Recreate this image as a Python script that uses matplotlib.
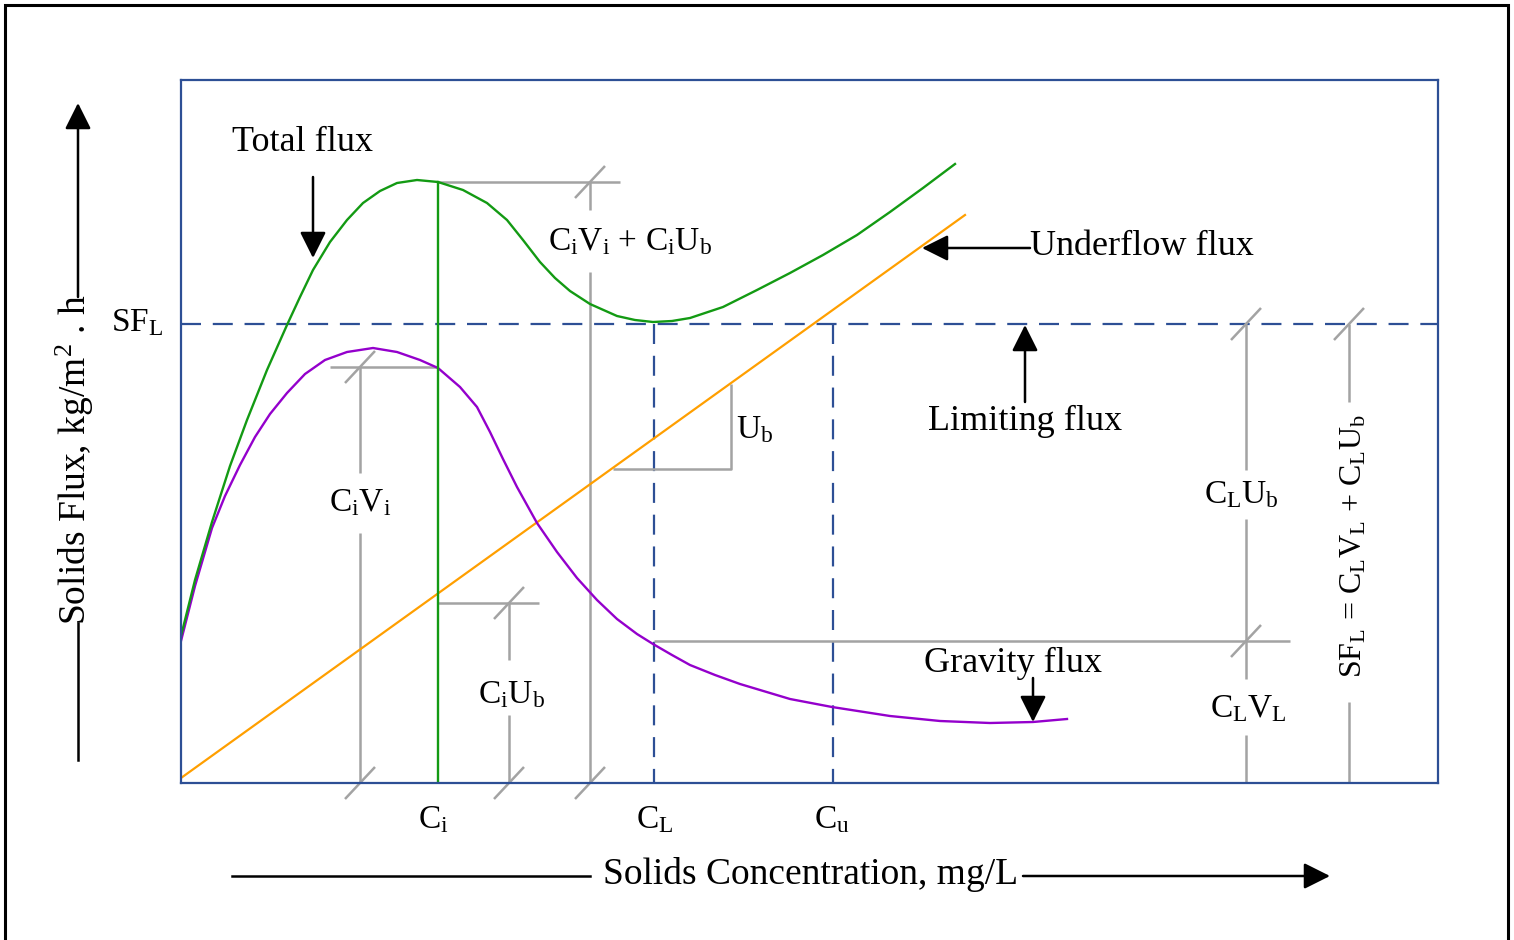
import numpy as np
import matplotlib.pyplot as plt
from matplotlib.patches import Rectangle

plt.rcParams['font.family'] = ['Liberation Serif', 'DejaVu Serif']
plt.rcParams['mathtext.fontset'] = 'custom'
plt.rcParams['mathtext.rm'] = 'Liberation Serif'
plt.rcParams['mathtext.it'] = 'Liberation Serif:italic'

# schematic units (concentration, flux)
total_c = [0, 14, 31, 49, 66, 86, 106, 119, 132, 149, 166, 182, 199, 216, 236, 257, 282,
           306, 326, 342, 359, 374, 389, 409, 436, 454, 472, 491, 509, 542, 576, 609, 642,
           676, 709, 742, 774]
total_f = [147, 203, 261, 317, 363, 413, 458, 486, 513, 541, 563, 580, 592, 600, 603, 601, 593,
           580, 563, 543, 521, 505, 492, 479, 467, 463, 461, 462, 465, 476, 493, 510, 528,
           548, 571, 595, 619]

gravity_c = [0, 14, 31, 44, 59, 74, 89, 106, 124, 144, 166, 192, 216, 239, 257, 279, 296, 309,
             322, 336, 356, 376, 396, 416, 436, 456, 472, 491, 509, 534, 559, 609, 651, 709,
             759, 809, 852, 886]
gravity_f = [142, 197, 255, 287, 318, 346, 369, 390, 409, 423, 431, 435, 431, 423, 415, 396, 376,
             351, 324, 296, 260, 231, 205, 183, 164, 149, 139, 128, 118, 108, 99, 84, 76, 67,
             62, 60, 61, 64]

under_c = [0, 784]
under_f = [5, 568]

C_i, C_L, C_u = 257, 473, 652
SF_L = 459
CiVi, CiUb, CiTot = 416, 180, 601
CLVL = 142
x_civi, x_ciub, x_citot = 179, 328, 409
x_clr, x_sfr = 1065, 1168

BLUE = '#2D4F95'
GRAY = '#A3A3A3'
GREEN = '#139A13'
PURPLE = '#9400CC'
ORANGE = '#FF9F00'

fig = plt.figure(figsize=(15.14, 9.40), dpi=100)
ax = fig.add_axes([181 / 1514, 157 / 940, 1257 / 1514, 703 / 940])
ax.set_xlim(0, 1257)
ax.set_ylim(0, 703)
ax.set_xticks([])
ax.set_yticks([])
for s in ax.spines.values():
    s.set_color(BLUE)
    s.set_linewidth(1.6)

# outer frame
fig.patches.append(Rectangle((5 / 1514, -0.02), 1503 / 1514, 1 - 5 / 940 + 0.02,
                             transform=fig.transFigure, fill=False, ec='black', lw=2.2))

gkw = dict(color=GRAY, lw=1.8, solid_capstyle='butt', clip_on=False)
dkw = dict(color=BLUE, lw=1.6, linestyle=(0, (9.0, 5.3)))

# limiting flux + concentrations
ax.plot([0, 1257], [SF_L, SF_L], **dkw)
ax.plot([C_L, C_L], [SF_L, 0], **dkw)
ax.plot([C_u, C_u], [SF_L, 0], **dkw)

# gray construction lines
ax.plot([149, C_i], [CiVi, CiVi], **gkw)
ax.plot([x_civi, x_civi], [CiVi, 310], **gkw)
ax.plot([x_civi, x_civi], [250, 0], **gkw)
ax.plot([C_i, 439], [CiTot, CiTot], **gkw)
ax.plot([x_citot, x_citot], [CiTot, 573], **gkw)
ax.plot([x_citot, x_citot], [511, 0], **gkw)
ax.plot([C_i, 358], [CiUb, CiUb], **gkw)
ax.plot([x_ciub, x_ciub], [CiUb, 123], **gkw)
ax.plot([x_ciub, x_ciub], [68, 0], **gkw)
ax.plot([432, 550, 550], [314, 314, 399], **gkw)
ax.plot([C_L, 1109], [CLVL, CLVL], **gkw)
ax.plot([x_clr, x_clr], [SF_L, 313], **gkw)
ax.plot([x_clr, x_clr], [264, 104], **gkw)
ax.plot([x_clr, x_clr], [48, 0], **gkw)
ax.plot([x_sfr, x_sfr], [SF_L, 381], **gkw)
ax.plot([x_sfr, x_sfr], [81, 0], **gkw)

# slash marks
for sx, sy in [(x_civi, CiVi), (x_civi, 0), (x_citot, CiTot), (x_citot, 0),
               (x_ciub, CiUb), (x_ciub, 0), (x_clr, SF_L), (x_clr, CLVL), (x_sfr, SF_L)]:
    ax.plot([sx - 15, sx + 15], [sy - 16, sy + 16], **gkw)

# flux curves
ax.plot(under_c, under_f, color=ORANGE, lw=1.6)
ax.plot(gravity_c, gravity_f, color=PURPLE, lw=1.7, solid_joinstyle='round')
ax.plot(total_c, total_f, color=GREEN, lw=1.7, solid_joinstyle='round')
ax.plot([C_i, C_i], [CiTot, 0], color=GREEN, lw=1.7)

akw = dict(arrowstyle='-|>,head_length=0.8,head_width=0.4', color='black', lw=1.8,
           shrinkA=0, shrinkB=0, mutation_scale=20)


def arrow(x0, y0, x1, y1):
    ax.annotate('', xy=(x1, y1), xytext=(x0, y0), arrowprops=akw, annotation_clip=False)


arrow(132, 606, 132, 525)
arrow(849, 535, 741, 535)
arrow(844, 381, 844, 458)
arrow(852, 105, 852, 61)

tkw = dict(ha='center', va='center', fontsize=26)
mkw = dict(ha='center', va='center', fontsize=24)
ax.text(122, 640, 'Total flux', **tkw)
ax.text(849, 536, 'Underflow flux', ha='left', va='center', fontsize=26)
ax.text(844, 362, 'Limiting flux', **tkw)
ax.text(832, 120, 'Gravity flux', **tkw)
ax.text(-44, 460, r'SF$_\mathrm{L}$', **mkw)
ax.text(C_i - 5, -37, r'C$_\mathrm{i}$', **mkw)
ax.text(C_L + 1, -37, r'C$_\mathrm{L}$', **mkw)
ax.text(C_u - 1, -37, r'C$_\mathrm{u}$', **mkw)
ax.text(555, 353, r'U$_\mathrm{b}$', ha='left', va='center', fontsize=24)
ax.text(x_civi, 280, r'C$_\mathrm{i}$V$_\mathrm{i}$', **mkw)
ax.text(x_ciub + 3, 88, r'C$_\mathrm{i}$U$_\mathrm{b}$', **mkw)
ax.text(449, 541, r'C$_\mathrm{i}$V$_\mathrm{i}$ + C$_\mathrm{i}$U$_\mathrm{b}$', **mkw)
ax.text(x_clr - 5, 288, r'C$_\mathrm{L}$U$_\mathrm{b}$', **mkw)
ax.text(x_clr + 2, 74, r'C$_\mathrm{L}$V$_\mathrm{L}$', **mkw)
ax.text(x_sfr + 5, 237, r'SF$_\mathrm{L}$ = C$_\mathrm{L}$V$_\mathrm{L}$ + C$_\mathrm{L}$U$_\mathrm{b}$',
        rotation=90, ha='center', va='center', fontsize=23)

# axis titles with arrows
ax.plot([51, 409], [-93, -93], color='black', lw=1.8, clip_on=False)
arrow(842, -93, 1149, -93)
ax.text(630, -92, 'Solids Concentration, mg/L', ha='center', va='center', fontsize=27)
ax.plot([-103, -103], [23, 160], color='black', lw=1.8, clip_on=False)
arrow(-103, 486, -103, 680)
ax.text(-106, 323, r'Solids Flux, kg/m$^2$ . h', rotation=90, ha='center', va='center',
        fontsize=27)

fig.savefig('out.png', dpi=100)
